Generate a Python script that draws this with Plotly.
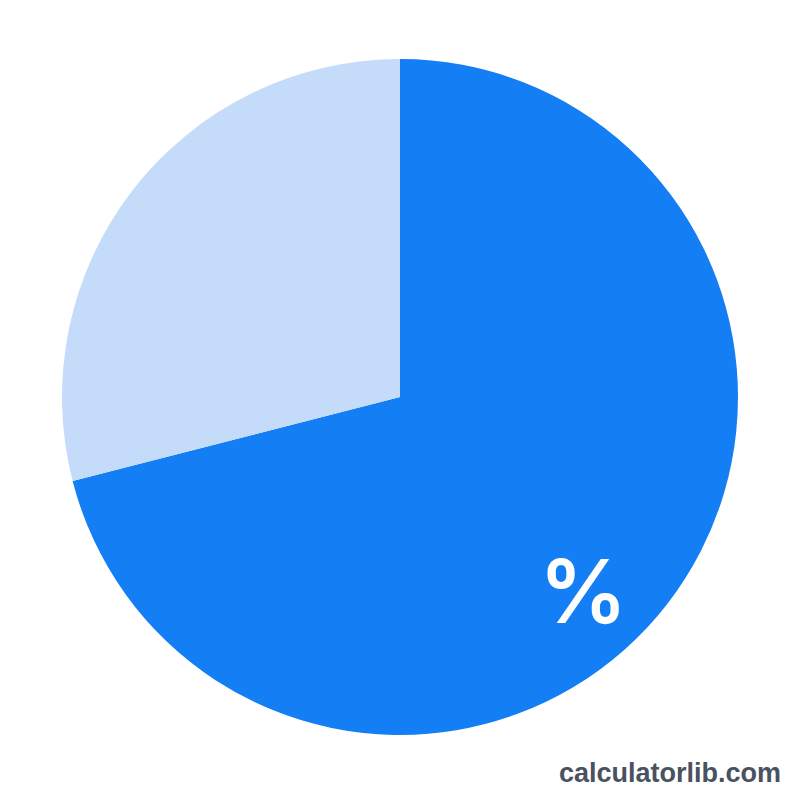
import plotly.graph_objects as go

# slice data
labels = ["Part", "Rest"]
values = [71, 29]
colors = ["#147EF5", "#C4DBFA"]

# the page body adds an 8px margin, so the figure is a bit smaller and shifted
W = 792
OFF = 8


def px_x(x):
    return (x - OFF) / W


def px_y(y):
    return 1 - (y - OFF) / W


fig = go.Figure(
    go.Pie(
        labels=labels,
        values=values,
        sort=False,
        direction="clockwise",
        rotation=0,
        marker=dict(colors=colors, line=dict(width=0)),
        textinfo="none",
        hoverinfo="label+percent",
        domain=dict(x=[px_x(62), px_x(738)], y=[px_y(736), px_y(58)]),
    )
)

fig.update_layout(
    width=W,
    height=W,
    margin=dict(l=0, r=0, t=0, b=0),
    paper_bgcolor="white",
    plot_bgcolor="white",
    showlegend=False,
    annotations=[
        dict(
            text="%",
            x=px_x(583),
            y=px_y(591),
            xref="paper",
            yref="paper",
            xanchor="center",
            yanchor="middle",
            showarrow=False,
            font=dict(family="Inter", size=88, color="white", weight=600),
        ),
        dict(
            text="<b>calculatorlib.com</b>",
            x=px_x(783),
            y=px_y(773),
            xref="paper",
            yref="paper",
            xanchor="right",
            yanchor="middle",
            showarrow=False,
            font=dict(family="Liberation Sans", size=27, color="#4A5160"),
        ),
    ],
)

fig.write_html("out.html")
